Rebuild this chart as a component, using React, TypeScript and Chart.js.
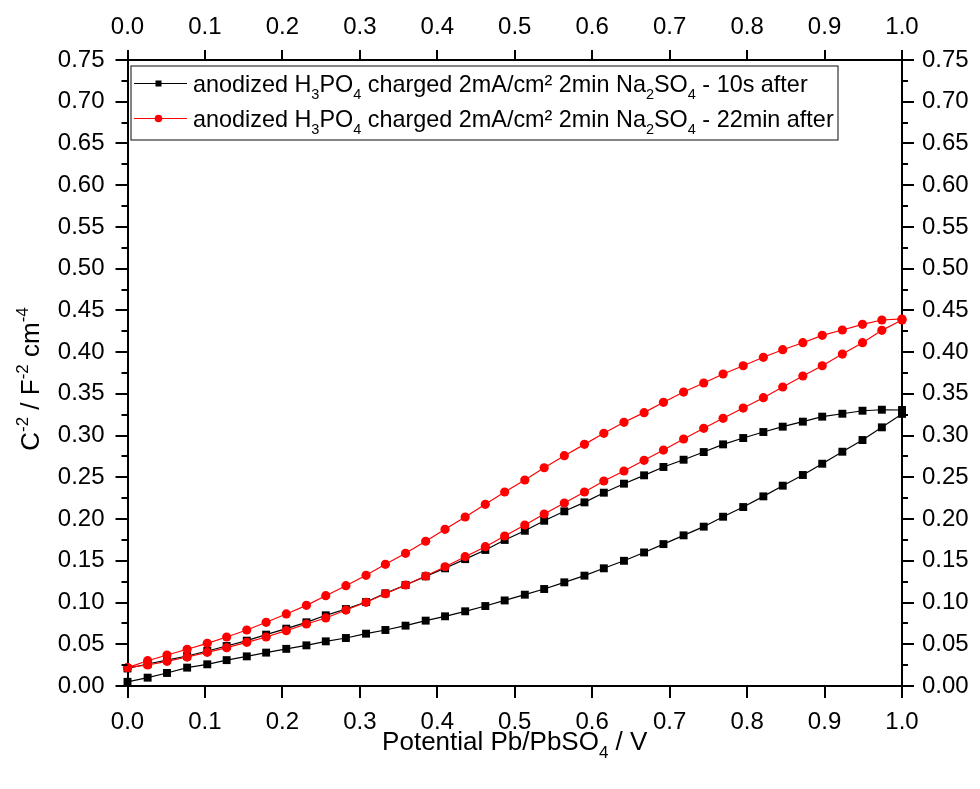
import React, { useEffect, useRef } from 'react';
import { Chart, registerables } from 'chart.js';

Chart.register(...registerables);

// Potential grid (V vs Pb/PbSO4), 40 points per sweep
const potential = [
  0.0, 0.026, 0.051, 0.077, 0.103, 0.128, 0.154, 0.179, 0.205, 0.231,
  0.256, 0.282, 0.308, 0.333, 0.359, 0.385, 0.41, 0.436, 0.462, 0.487,
  0.513, 0.538, 0.564, 0.59, 0.615, 0.641, 0.667, 0.692, 0.718, 0.744,
  0.769, 0.795, 0.821, 0.846, 0.872, 0.897, 0.923, 0.949, 0.974, 1.0,
];

// 10s after — forward sweep (lower branch)
const black10sForward = [
  0.005, 0.01, 0.0156, 0.022, 0.026, 0.031, 0.0355, 0.04, 0.0445, 0.0487,
  0.0535, 0.0575, 0.0627, 0.0671, 0.0723, 0.0783, 0.0835, 0.0895, 0.0958, 0.1025,
  0.1094, 0.1162, 0.1242, 0.1322, 0.141, 0.15, 0.16, 0.17, 0.1805, 0.1909,
  0.2028, 0.2144, 0.2272, 0.24, 0.2528, 0.2663, 0.2807, 0.2947, 0.3099, 0.326,
];
// 10s after — reverse sweep (upper branch), listed by ascending potential
const black10sReverse = [
  0.021, 0.0264, 0.0311, 0.0359, 0.0419, 0.0479, 0.0543, 0.0615, 0.0687, 0.0763,
  0.0847, 0.0922, 0.1006, 0.111, 0.121, 0.1314, 0.141, 0.152, 0.163, 0.175,
  0.186, 0.198, 0.2093, 0.22, 0.2316, 0.2424, 0.2524, 0.2624, 0.2711, 0.2803,
  0.2895, 0.2971, 0.3043, 0.3107, 0.3167, 0.3227, 0.3262, 0.3298, 0.331, 0.3307,
];
// 22min after — forward sweep (upper branch)
const red22minForward = [
  0.022, 0.0303, 0.0371, 0.044, 0.0511, 0.0587, 0.0671, 0.0763, 0.0863, 0.0966,
  0.1082, 0.1202, 0.1326, 0.1458, 0.159, 0.1734, 0.1877, 0.2025, 0.2177, 0.2324,
  0.2468, 0.2615, 0.2759, 0.2895, 0.3027, 0.3159, 0.3275, 0.3399, 0.3522, 0.363,
  0.3738, 0.3837, 0.3938, 0.4029, 0.4113, 0.4201, 0.4265, 0.4333, 0.4385, 0.4397,
];
// 22min after — reverse sweep (lower branch), listed by ascending potential
const red22minReverse = [
  0.022, 0.0252, 0.0296, 0.0347, 0.0403, 0.0459, 0.0523, 0.0587, 0.0663, 0.0743,
  0.0815, 0.091, 0.1003, 0.1106, 0.121, 0.1318, 0.1429, 0.1549, 0.1669, 0.1797,
  0.1929, 0.2061, 0.2192, 0.2324, 0.2456, 0.2576, 0.2704, 0.2827, 0.2959, 0.3087,
  0.3207, 0.333, 0.3454, 0.3582, 0.3714, 0.3837, 0.3977, 0.4113, 0.4261, 0.4385,
];

const xTickValues = [0, 0.1, 0.2, 0.3, 0.4, 0.5, 0.6, 0.7, 0.8, 0.9, 1.0];
const yTickValues = [
  0, 0.05, 0.1, 0.15, 0.2, 0.25, 0.3, 0.35, 0.4, 0.45, 0.5, 0.55, 0.6, 0.65, 0.7, 0.75,
];
const yMinorValues = [
  0.025, 0.075, 0.125, 0.175, 0.225, 0.275, 0.325, 0.375, 0.425, 0.475, 0.525, 0.575,
  0.625, 0.675, 0.725,
];

type Part = [string, number]; // [text, 0 normal / 1 sub / -1 sup]
const legendBlack: Part[] = [
  ['anodized H', 0], ['3', 1], ['PO', 0], ['4', 1], [' charged 2mA/cm² 2min Na', 0],
  ['2', 1], ['SO', 0], ['4', 1], [' - 10s after', 0],
];
const legendRed: Part[] = [
  ['anodized H', 0], ['3', 1], ['PO', 0], ['4', 1], [' charged 2mA/cm² 2min Na', 0],
  ['2', 1], ['SO', 0], ['4', 1], [' - 22min after', 0],
];
const xTitle: Part[] = [['Potential Pb/PbSO', 0], ['4', 1], [' / V', 0]];
const yTitle: Part[] = [['C', 0], ['-2', -1], [' / F', 0], ['-2', -1], [' cm', 0], ['-4', -1]];

const FONT = '"Liberation Sans", Arial, Helvetica, sans-serif';

function loop(fwd: number[], rev: number[]) {
  const a = potential.map((x, i) => ({ x, y: fwd[i] }));
  const b = potential.map((x, i) => ({ x, y: rev[i] })).reverse();
  return a.concat(b);
}

function partsWidth(ctx: CanvasRenderingContext2D, parts: Part[], size: number, small: number) {
  let w = 0;
  for (const [t, k] of parts) {
    ctx.font = `${k === 0 ? size : small}px ${FONT}`;
    w += ctx.measureText(t).width;
  }
  return w;
}

function drawParts(
  ctx: CanvasRenderingContext2D, parts: Part[], x: number, y: number,
  size: number, small: number, subDy: number, supDy: number,
) {
  let cx = x;
  for (const [t, k] of parts) {
    ctx.font = `${k === 0 ? size : small}px ${FONT}`;
    const dy = k === 1 ? subDy : k === -1 ? supDy : 0;
    ctx.fillText(t, cx, y + dy);
    cx += ctx.measureText(t).width;
  }
  return cx;
}

const decorPlugin = {
  id: 'decor',
  afterDraw(chart: any) {
    const ctx: CanvasRenderingContext2D = chart.ctx;
    const { left, right, top, bottom } = chart.chartArea;
    const xs = chart.scales.x;
    const ys = chart.scales.y;
    ctx.save();
    // tick marks
    ctx.strokeStyle = '#000';
    ctx.lineWidth = 2;
    ctx.beginPath();
    xTickValues.forEach((v) => {
      const p = Math.round(xs.getPixelForValue(v));
      ctx.moveTo(p, bottom); ctx.lineTo(p, bottom + 12);
      ctx.moveTo(p, top); ctx.lineTo(p, top - 10);
    });
    yTickValues.forEach((v) => {
      const p = Math.round(ys.getPixelForValue(v));
      ctx.moveTo(left, p); ctx.lineTo(left - 12, p);
      ctx.moveTo(right, p); ctx.lineTo(right + 12, p);
    });
    yMinorValues.forEach((v) => {
      const p = Math.round(ys.getPixelForValue(v));
      ctx.moveTo(left, p); ctx.lineTo(left - 6, p);
      ctx.moveTo(right, p); ctx.lineTo(right + 6, p);
    });
    ctx.stroke();

    // legend box
    ctx.fillStyle = '#fff';
    ctx.fillRect(131, 66, 707, 74);
    ctx.strokeStyle = '#333';
    ctx.lineWidth = 1.2;
    ctx.strokeRect(131, 66, 707, 74);
    const rows: [Part[], string, string, number][] = [
      [legendBlack, '#000000', 'rect', 83.5],
      [legendRed, '#ff0000', 'circle', 118.5],
    ];
    ctx.textBaseline = 'alphabetic';
    ctx.textAlign = 'left';
    for (const [parts, color, shape, cy] of rows) {
      ctx.strokeStyle = color;
      ctx.lineWidth = 1.2;
      ctx.beginPath();
      ctx.moveTo(134, cy); ctx.lineTo(187, cy);
      ctx.stroke();
      ctx.fillStyle = color;
      if (shape === 'rect') ctx.fillRect(155.5, cy - 3, 6, 6);
      else { ctx.beginPath(); ctx.arc(158.5, cy, 3.8, 0, Math.PI * 2); ctx.fill(); }
      ctx.fillStyle = '#000';
      drawParts(ctx, parts, 193, cy + 8, 23.4, 14.5, 7, -10);
    }

    // x axis title
    ctx.fillStyle = '#000';
    const xw = partsWidth(ctx, xTitle, 26, 17);
    drawParts(ctx, xTitle, (left + right) / 2 - xw / 2, 750, 26, 17, 8, -10);

    // y axis title (rotated)
    ctx.save();
    ctx.translate(38.5, 379);
    ctx.rotate(-Math.PI / 2);
    const yw = partsWidth(ctx, yTitle, 26, 17);
    drawParts(ctx, yTitle, -yw / 2, 0, 26, 17, 8, -11);
    ctx.restore();

    ctx.restore();
  },
};

export default function App() {
  const ref = useRef<HTMLCanvasElement | null>(null);

  useEffect(() => {
    document.body.style.margin = '0';
    const canvas = ref.current;
    if (!canvas) return;
    const tickFont = { family: FONT, size: 24 };
    const setX = (s: any) => { s.ticks = xTickValues.map((value) => ({ value })); };
    const setY = (s: any) => { s.ticks = yTickValues.map((value) => ({ value })); };
    const xCommon = {
      type: 'linear' as const,
      axis: 'x' as const,
      min: 0,
      max: 1,
      afterBuildTicks: setX,
      grid: { display: false, drawTicks: false },
      border: { display: true, color: '#000', width: 2 },
      ticks: { font: tickFont, color: '#000', maxRotation: 0, autoSkip: false,
        callback: (v: any) => Number(v).toFixed(1) },
    };
    const yCommon = {
      type: 'linear' as const,
      axis: 'y' as const,
      min: 0,
      max: 0.75,
      afterBuildTicks: setY,
      grid: { display: false, drawTicks: false },
      border: { display: true, color: '#000', width: 2 },
      ticks: { font: tickFont, color: '#000', autoSkip: false,
        callback: (v: any) => Number(v).toFixed(2) },
    };
    const chart = new Chart(canvas, {
      type: 'scatter',
      data: {
        datasets: [
          {
            label: 'anodized H3PO4 charged 2mA/cm² 2min Na2SO4 - 10s after',
            data: loop(black10sForward, black10sReverse),
            showLine: true,
            borderColor: '#000000',
            backgroundColor: '#000000',
            borderWidth: 1.2,
            pointStyle: 'rect',
            pointRadius: 5.6,
            pointBorderWidth: 0,
            tension: 0,
            clip: false,
            order: 1,
          },
          {
            label: 'anodized H3PO4 charged 2mA/cm² 2min Na2SO4 - 22min after',
            data: loop(red22minForward, red22minReverse),
            showLine: true,
            borderColor: '#ff0000',
            backgroundColor: '#ff0000',
            borderWidth: 1.2,
            pointStyle: 'circle',
            pointRadius: 4.6,
            pointBorderWidth: 0,
            tension: 0,
            clip: false,
            order: 0,
          },
        ],
      },
      options: {
        responsive: false,
        animation: false,
        events: [],
        layout: { padding: 0 },
        plugins: { legend: { display: false }, tooltip: { enabled: false } },
        scales: {
          x: { ...xCommon, position: 'bottom',
            ticks: { ...xCommon.ticks, padding: 22 },
            afterFit: (s: any) => { s.height = 103; } },
          x2: { ...xCommon, position: 'top',
            ticks: { ...xCommon.ticks, padding: 18 },
            afterFit: (s: any) => { s.height = 60; } },
          y: { ...yCommon, position: 'left',
            ticks: { ...yCommon.ticks, padding: 23 },
            afterFit: (s: any) => { s.width = 127.5; } },
          y2: { ...yCommon, position: 'right',
            ticks: { ...yCommon.ticks, padding: 20 },
            afterFit: (s: any) => { s.width = 78; } },
        },
      },
      plugins: [decorPlugin],
    } as any);
    return () => chart.destroy();
  }, []);

  return (
    <div style={{ width: 980, height: 789, background: '#fff' }}>
      <canvas ref={ref} width={980} height={789} style={{ display: 'block' }} />
    </div>
  );
}
